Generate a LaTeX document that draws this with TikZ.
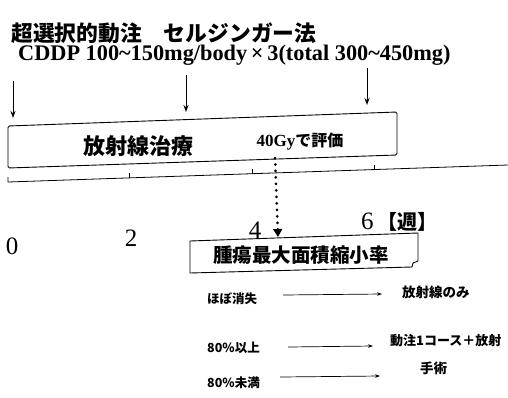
\documentclass[tikz,border=0pt]{standalone}
\usepackage{fontspec}
\setmainfont{Liberation Serif}
\newfontfamily\jp{Noto Sans CJK JP}
\usetikzlibrary{arrows.meta}
\begin{document}
\begin{tikzpicture}[x=1pt,y=-1pt,
  jpt/.style={font=\jp\bfseries\fontsize{#1}{#1}\selectfont, inner sep=0pt},
  sert/.style={font=\bfseries\fontsize{#1}{#1}\selectfont, inner sep=0pt},
  numt/.style={font=\fontsize{#1}{#1}\selectfont, inner sep=0pt},
  downarrow/.style={line width=1pt, -{Stealth[length=7pt,width=5pt]}},
  rowarrow/.style={line width=0.7pt, -{Stealth[length=5pt,width=3.5pt]}},
  frame/.style={line width=0.9pt, line join=round}]
\useasboundingbox (0,0) rectangle (508,397);
% title
\node[jpt=21.8, anchor=west] (t1) at (11,33) {超選択的動注　セルジンガー法};
\node[sert=22.3, anchor=west] (t2) at (18,55) {CDDP 100\textasciitilde150mg/body\,×\,3(total 300\textasciitilde450mg)};
% injection arrows
\coordinate (a1s) at (13,81);  \coordinate (a1e) at (13,118);
\coordinate (a2s) at (186,75); \coordinate (a2e) at (186,112);
\coordinate (a3s) at (367,68); \coordinate (a3e) at (367,105);
\draw[downarrow] (a1s) -- (a1e);
\draw[downarrow] (a2s) -- (a2e);
\draw[downarrow] (a3s) -- (a3e);
% radiotherapy box
\coordinate (r1) at (8,126); \coordinate (r2) at (397,112);
\coordinate (r3) at (397,155); \coordinate (r4) at (8,168);
\draw[frame, rounded corners=1.5pt] (r1) -- (r2) -- (r3) -- (r4) -- cycle;
\node[jpt=22] (rt) at (138,146) {放射線治療};
\node[inner sep=0pt] (ev) at (300,142) {{\bfseries\fontsize{17}{17}\selectfont 40Gy}{\jp\bfseries\fontsize{16}{16}\selectfont で評価}};
% time axis
\coordinate (x0) at (8,182); \coordinate (x1) at (508,165);
\draw[line width=0.8pt] (8,177) -- (x0) -- (x1);
\draw[line width=0.8pt] (129,178) -- (129,173);
\draw[line width=0.8pt] (252,174) -- (252,169);
\draw[line width=0.8pt] (374,170) -- (374,165);
\node[numt=25] (n0) at (12,246) {0};
\node[numt=25] (n2) at (131,238) {2};
\node[numt=25] (n4) at (255,230) {4};
\node[numt=25, anchor=west] (n6) at (361,222) {6\,{\jp\bfseries\fontsize{20}{20}\selectfont【週】}};
% dotted arrow
\coordinate (d0) at (275,158); \coordinate (d1) at (278,237);
\draw[line width=3pt, line cap=round, dash pattern=on 0pt off 6.5pt,
      -{Triangle[length=8pt,width=9pt]}] (d0) -- (d1);
% tumour box
\draw[frame] (190,241) -- (418,233) -- (418,261) -- (413,263) -- (412,267) -- (190,273) -- cycle;
\node[jpt=19.5] (tm) at (301,255) {腫瘍最大面積縮小率};
% outcome rows
\node[jpt=12.5, anchor=west] (l1) at (207,299) {ほぼ消失};
\node[jpt=12.5, anchor=west] (l2) at (207,348) {80\%以上};
\node[jpt=12.5, anchor=west] (l3) at (207,383) {80\%未満};
\node[jpt=13.5, anchor=west] (o1) at (402,292) {放射線のみ};
\node[jpt=13, anchor=west] (o2) at (390,341) {動注1コース＋放射};
\node[jpt=13.5, anchor=west] (o3) at (420,368) {手術};
\coordinate (s1) at (283,295); \coordinate (e1) at (382,294);
\coordinate (s2) at (288,347); \coordinate (e2) at (373,346);
\coordinate (s3) at (280,377); \coordinate (e3) at (380,376);
\draw[rowarrow] (s1) -- (e1);
\draw[rowarrow] (s2) -- (e2);
\draw[rowarrow] (s3) -- (e3);
\end{tikzpicture}
\end{document}
